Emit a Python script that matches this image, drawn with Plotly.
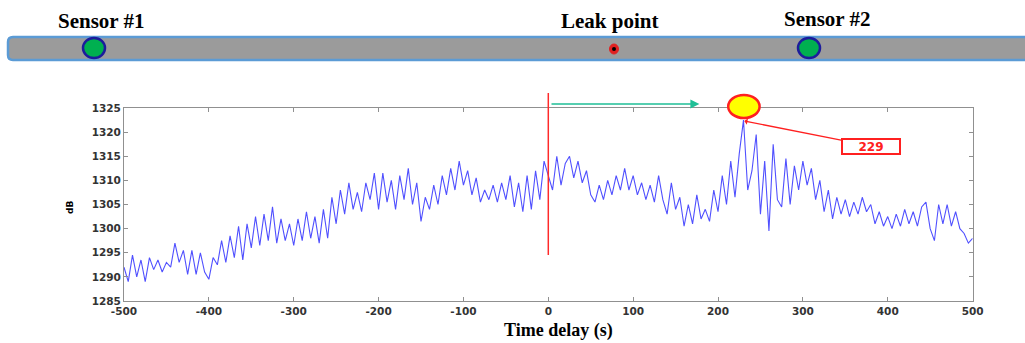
import plotly.graph_objects as go

# ---- data ----
t_start, t_step = -500, 5
db_values = [
    # -500 .. -405
    1292, 1289, 1294.5, 1290, 1293.5, 1289, 1294, 1291.5, 1293.5, 1291,
    1293, 1292, 1297, 1293, 1295.5, 1290.5, 1295.5, 1290.5, 1295, 1291,
    # -400 .. -305
    1289.5, 1294, 1292.5, 1297.5, 1293, 1298.5, 1294, 1300.5, 1293.5, 1301,
    1296, 1302.5, 1296.5, 1303, 1297.5, 1304.5, 1297, 1302, 1297.5, 1301,
    # -300 .. -205
    1296.5, 1302, 1297.5, 1303.5, 1298, 1302.5, 1297, 1304, 1298, 1306.5,
    1301, 1308, 1303, 1309.5, 1304, 1307.5, 1303.5, 1309.5, 1306, 1311.5,
    # -200 .. -105
    1304, 1311.5, 1305.5, 1310, 1304, 1311, 1306, 1312.5, 1305, 1309.5,
    1301.5, 1306.5, 1304, 1309, 1305, 1311, 1307, 1312.5, 1308, 1314,
    # -100 .. -5
    1309, 1312, 1307, 1310.5, 1305.5, 1308, 1306, 1309, 1305.5, 1309.5,
    1306, 1311, 1304.5, 1309.5, 1303.5, 1311, 1304, 1312, 1306, 1314,
    # 0 .. 95
    1311, 1308, 1315, 1309, 1313.5, 1315, 1310.5, 1314, 1309.5, 1312,
    1307, 1305.5, 1309, 1306, 1310, 1307, 1311, 1308, 1312.5, 1308,
    # 100 .. 195
    1311, 1307, 1309.5, 1306, 1309, 1305.5, 1311, 1306, 1303, 1309.5,
    1304, 1306.5, 1300.5, 1305, 1301, 1307, 1302, 1304, 1301.5, 1308,
    # 200 .. 295
    1303.5, 1311, 1305, 1314, 1306.5, 1315.5, 1322.5, 1308, 1312, 1319.5,
    1303, 1314, 1299.5, 1317.5, 1306, 1304.5, 1314.5, 1305, 1313, 1308,
    # 300 .. 395
    1314, 1309, 1312.5, 1306, 1310, 1303.5, 1308, 1302, 1306.5, 1303,
    1306, 1302.5, 1305.5, 1303, 1306.5, 1303.5, 1305, 1301, 1303.5, 1300.5,
    # 400 .. 500
    1302.5, 1300, 1303, 1300.5, 1304, 1301, 1303.5, 1300.5, 1304.5, 1305.5,
    1300, 1297.5, 1305, 1301, 1305, 1300.5, 1303.5, 1300, 1299, 1297,
    1298,
]
time_values = [t_start + i * t_step for i in range(len(db_values))]

x_ticks = [-500, -400, -300, -200, -100, 0, 100, 200, 300, 400, 500]
y_ticks = [1285, 1290, 1295, 1300, 1305, 1310, 1315, 1320, 1325]
leak_delay = 0
peak_delay = 229
peak_label = "229"
arrow_end = 178
top_labels = ["Sensor #1", "Leak point", "Sensor #2"]

W, H = 1025, 343


def px(x):
    return x / W


def py(y):
    return 1 - y / H


fig = go.Figure()
fig.add_trace(go.Scatter(
    x=time_values, y=db_values, mode="lines",
    line=dict(color="rgb(80,80,255)", width=1.1),
    hoverinfo="skip", showlegend=False,
))

serif = "Liberation Serif, Times New Roman, serif"
sans = "DejaVu Sans, Arial, sans-serif"

shapes = []
# pipe with rounded left end
x0p, x1p, y0p, y1p = px(8), px(1032), py(60), py(37)
rx, ry = 5 / W, 5 / H
pipe_path = (f"M {x0p + rx},{y1p} L {x1p},{y1p} L {x1p},{y0p} L {x0p + rx},{y0p} "
             f"Q {x0p},{y0p} {x0p},{y0p + ry} L {x0p},{y1p - ry} Q {x0p},{y1p} {x0p + rx},{y1p} Z")
shapes.append(dict(type="path", xref="paper", yref="paper", path=pipe_path,
                   fillcolor="#9b9b9b", line=dict(color="#5b9bd5", width=2.5),
                   layer="above"))
# sensors
for cx in (94, 809):
    shapes.append(dict(type="circle", xref="paper", yref="paper",
                       x0=px(cx - 11), x1=px(cx + 11), y0=py(58), y1=py(38),
                       fillcolor="#00b050", line=dict(color="#1c1c9c", width=2.5),
                       layer="above"))
# leak point
shapes.append(dict(type="circle", xref="paper", yref="paper",
                   x0=px(609.5), x1=px(618.5), y0=py(54), y1=py(44),
                   fillcolor="#e02020", line=dict(color="#e02020", width=1),
                   layer="above"))
shapes.append(dict(type="circle", xref="paper", yref="paper",
                   x0=px(612), x1=px(616), y0=py(51), y1=py(47),
                   fillcolor="black", line=dict(color="black", width=0),
                   layer="above"))
# red vertical line at zero delay
shapes.append(dict(type="line", xref="x", yref="paper",
                   x0=leak_delay, x1=leak_delay, y0=py(255), y1=py(93),
                   line=dict(color="#ff2a2a", width=1.5), layer="above"))
# yellow ellipse at peak
shapes.append(dict(type="circle", xref="x", yref="paper",
                   x0=peak_delay - 17, x1=peak_delay + 20, y0=py(118), y1=py(95),
                   fillcolor="#ffff00", line=dict(color="#ff2020", width=2.5),
                   layer="above"))

annotations = []
label_pos = [(101, 21), (609, 21), (827, 19)]
for txt, (lx, ly) in zip(top_labels, label_pos):
    annotations.append(dict(text="<b>%s</b>" % txt, xref="paper", yref="paper",
                            x=px(lx), y=py(ly), showarrow=False,
                            font=dict(family=serif, size=21, color="black"),
                            xanchor="center", yanchor="middle"))
# green arrow
annotations.append(dict(text="", xref="x", yref="paper", x=arrow_end, y=py(104),
                        axref="x", ax=leak_delay + 2, ay=0, ayref="pixel",
                        showarrow=True, arrowhead=2, arrowsize=1.2, arrowwidth=1.5,
                        arrowcolor="#1fbf96"))
# peak label box
annotations.append(dict(text="<b>%s</b>" % peak_label,
                        xref="x", yref="paper",
                        x=peak_delay + 2, y=py(121), ax=127, ay=25,
                        showarrow=True, arrowhead=1, arrowsize=0.8, arrowwidth=1.3,
                        arrowcolor="#ff2020", font=dict(family=sans, size=12, color="#ff2020"),
                        bordercolor="#ff2020", borderwidth=2, bgcolor="white",
                        width=54, height=11, borderpad=1))
# y axis title
annotations.append(dict(text="<b>dB</b>", xref="paper", yref="paper",
                        x=px(70), y=py(208), showarrow=False, textangle=-90,
                        xanchor="center", yanchor="middle",
                        font=dict(family=sans, size=9, color="black")))
# x axis title
annotations.append(dict(text="<b>Time delay (s)</b>", xref="paper", yref="paper",
                        x=px(558), y=py(330), showarrow=False,
                        xanchor="center", yanchor="middle",
                        font=dict(family=serif, size=18, color="black")))

axis_common = dict(showgrid=False, zeroline=False, showline=True, mirror="ticks",
                   linecolor="#909090", linewidth=1, ticks="inside", ticklen=4,
                   tickcolor="#909090",
                   tickfont=dict(family=sans, size=10.5, color="#333333"))

fig.update_layout(
    width=W, height=H,
    margin=dict(l=0, r=0, t=0, b=0, pad=0),
    paper_bgcolor="white", plot_bgcolor="white",
    xaxis=dict(domain=[px(124), px(972.6)], range=[-500, 500], automargin=False,
               tickvals=x_ticks, ticktext=["<b>%d</b>" % v for v in x_ticks],
               **axis_common),
    yaxis=dict(domain=[py(301), py(108)], range=[1285, 1325], automargin=False,
               tickvals=y_ticks, ticktext=["<b>%d</b>" % v for v in y_ticks],
               **axis_common),
    shapes=shapes,
    annotations=annotations,
)

fig.write_html("out.html", config={"displayModeBar": False},
               post_script="document.body.style.margin='0';document.body.style.overflow='hidden';")
